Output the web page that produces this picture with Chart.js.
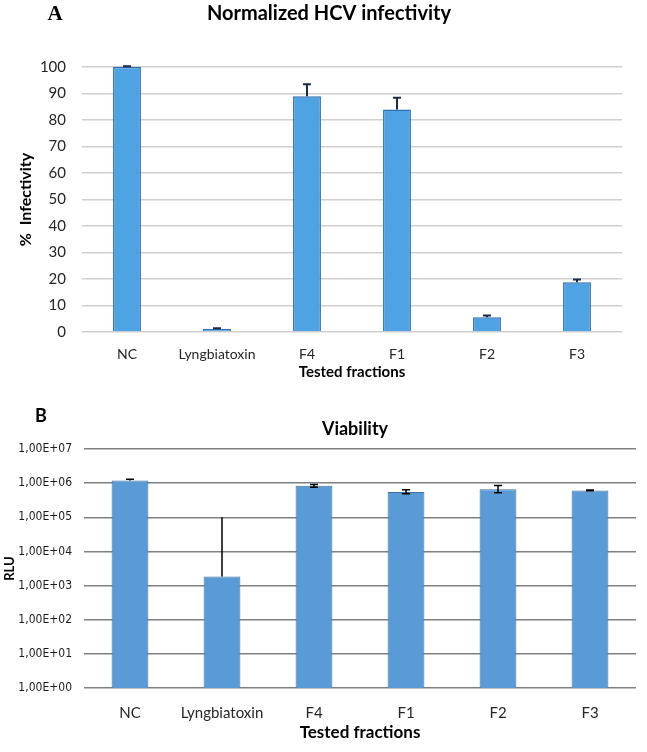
<!DOCTYPE html>
<html lang="en">
<head>
    <meta charset="UTF-8">
    <title>HCV infectivity and viability</title>
    <style>
        body{margin:0;background:#fff;}
        .panel{position:absolute;left:0;}
        #chartA{top:0;}
        #chartB{top:390px;}
    </style>
</head>
<body>
    <canvas id="chartA" class="panel" width="647" height="390"></canvas>
    <canvas id="chartB" class="panel" width="647" height="362"></canvas>
    <script src="https://cdn.jsdelivr.net/npm/chart.js"></script>
    <script>
        // data
        const fractions=['NC','Lyngbiatoxin','F4','F1','F2','F3'];
        const infectivity=[100,1.1,89,84,5.6,18.8];
        const infectivityErr=[0.3,0.3,4.5,4.4,0.6,1.0];
        const infTicks=[0,10,20,30,40,50,60,70,80,90,100];

        const viability=[1.2e6,1.85e3,8.4e5,5.5e5,6.6e5,6.1e5];
        const viabilityLow=[1.2e6,1.85e3,7.6e5,4.9e5,5.2e5,6.0e5];
        const viabilityHigh=[1.3e6,1.0e5,9.1e5,6.4e5,8.6e5,6.3e5];
        const rluTicks=[1,10,100,1e3,1e4,1e5,1e6,1e7];

        // error bars drawn through the y scale
        const errorBars={
            id:'errorBars',
            afterDatasetsDraw(chart,args,opt){
                const {ctx}=chart;
                const y=chart.scales.y;
                const bars=chart.getDatasetMeta(0).data;
                ctx.save()
                ctx.strokeStyle=opt.color
                ctx.lineWidth=opt.width
                bars.forEach((bar,i)=>{
                    const hi=y.getPixelForValue(opt.high[i]);
                    const lo=y.getPixelForValue(opt.low[i]);
                    ctx.beginPath()
                    ctx.moveTo(bar.x,lo)
                    ctx.lineTo(bar.x,hi)
                    if(opt.capHigh[i]){
                        ctx.moveTo(bar.x-opt.cap,hi)
                        ctx.lineTo(bar.x+opt.cap,hi)
                    }
                    if(opt.capLow[i]){
                        ctx.moveTo(bar.x-opt.cap,lo)
                        ctx.lineTo(bar.x+opt.cap,lo)
                    }
                    ctx.stroke()
                })
                ctx.restore()
            }
        };

        // panel letter and chart title
        const panelText={
            id:'panelText',
            afterDraw(chart,args,opt){
                const {ctx}=chart;
                ctx.save()
                ctx.textAlign='center'
                ctx.textBaseline='middle'
                ctx.fillStyle='#000'
                opt.items.forEach(t=>{
                    ctx.font=t.font
                    ctx.fillText(t.text,t.x,t.y)
                })
                ctx.restore()
            }
        };

        Chart.defaults.font.family='Lato, "Open Sans", sans-serif';
        Chart.defaults.animation=false;

        new Chart(document.querySelector('#chartA'),{
            type:'bar',
            data:{
                labels:fractions,
                datasets:[{
                    data:infectivity,
                    backgroundColor:'#4fa3e2',
                    borderColor:'#2e6fb5',
                    borderWidth:1.5,
                    barPercentage:0.31,
                    categoryPercentage:1
                }]
            },
            plugins:[errorBars,panelText],
            options:{
                responsive:false,
                layout:{padding:{top:67,right:25,left:0,bottom:0}},
                scales:{
                    x:{
                        afterFit(s){s.height=58},
                        grid:{display:false},
                        border:{display:false},
                        ticks:{padding:6,color:'#262626',font:{size:14}},
                        title:{display:true,text:'Tested fractions',color:'#000',
                            font:{size:15,weight:'bold'},padding:{top:0,bottom:9}}
                    },
                    y:{
                        min:0,max:100,
                        afterFit(s){s.width=82},
                        afterBuildTicks(s){s.ticks=infTicks.map(v=>({value:v}))},
                        grid:{color:'#cfcfcf',lineWidth:1.5,drawTicks:false},
                        border:{display:false},
                        ticks:{padding:16,color:'#262626',font:{size:15}},
                        title:{display:true,text:'%  Infectivity',color:'#000',
                            font:{size:16,weight:'bold'},padding:{top:16,bottom:0}}
                    }
                },
                plugins:{
                    legend:{display:false},
                    tooltip:{enabled:false},
                    errorBars:{
                        low:infectivity,
                        high:infectivity.map((v,i)=>v+infectivityErr[i]),
                        capHigh:[1,1,1,1,1,1],capLow:[0,0,0,0,0,0],
                        cap:4,width:2,color:'#1b2a44'
                    },
                    panelText:{items:[
                        {text:'A',x:55,y:15,font:'bold 21px "Liberation Serif", serif'},
                        {text:'Normalized HCV infectivity',x:329,y:14,font:'bold 20px Lato, sans-serif'}
                    ]}
                }
            }
        });

        const sup=n=>String(n).padStart(2,'0');

        new Chart(document.querySelector('#chartB'),{
            type:'bar',
            data:{
                labels:fractions,
                datasets:[{
                    data:viability,
                    backgroundColor:'#5b9bd5',
                    borderColor:'#41719c',
                    borderWidth:1,
                    barPercentage:0.4,
                    categoryPercentage:1
                }]
            },
            plugins:[errorBars,panelText],
            options:{
                responsive:false,
                layout:{padding:{top:59,right:11,left:0,bottom:0}},
                scales:{
                    x:{
                        afterFit(s){s.height=64},
                        grid:{display:false},
                        border:{display:false},
                        ticks:{padding:8,color:'#262626',font:{size:15}},
                        title:{display:true,text:'Tested fractions',color:'#000',
                            font:{size:17,weight:'bold'},padding:{top:0,bottom:9}}
                    },
                    y:{
                        type:'logarithmic',
                        min:1,max:1e7,
                        afterFit(s){s.width=84},
                        afterBuildTicks(s){s.ticks=rluTicks.map(v=>({value:v}))},
                        grid:{color:'#808080',lineWidth:1.5,drawTicks:false},
                        border:{display:false},
                        ticks:{padding:12,color:'#1a1a1a',
                            font:{family:'"DejaVu Sans Condensed", sans-serif',size:12},
                            callback:v=>'1,00E+'+sup(Math.round(Math.log10(v)))},
                        title:{display:true,text:'RLU',color:'#000',
                            font:{size:13,weight:'bold'},padding:{top:2,bottom:0}}
                    }
                },
                plugins:{
                    legend:{display:false},
                    tooltip:{enabled:false},
                    errorBars:{
                        low:viabilityLow,
                        high:viabilityHigh,
                        capHigh:[1,0,1,1,1,1],capLow:[0,0,1,1,1,1],
                        cap:4,width:1.5,color:'#000'
                    },
                    panelText:{items:[
                        {text:'B',x:41,y:26,font:'bold 18px Lato, sans-serif'},
                        {text:'Viability',x:355,y:39,font:'bold 18px Lato, sans-serif'}
                    ]}
                }
            }
        });
    </script>
</body>
</html>
